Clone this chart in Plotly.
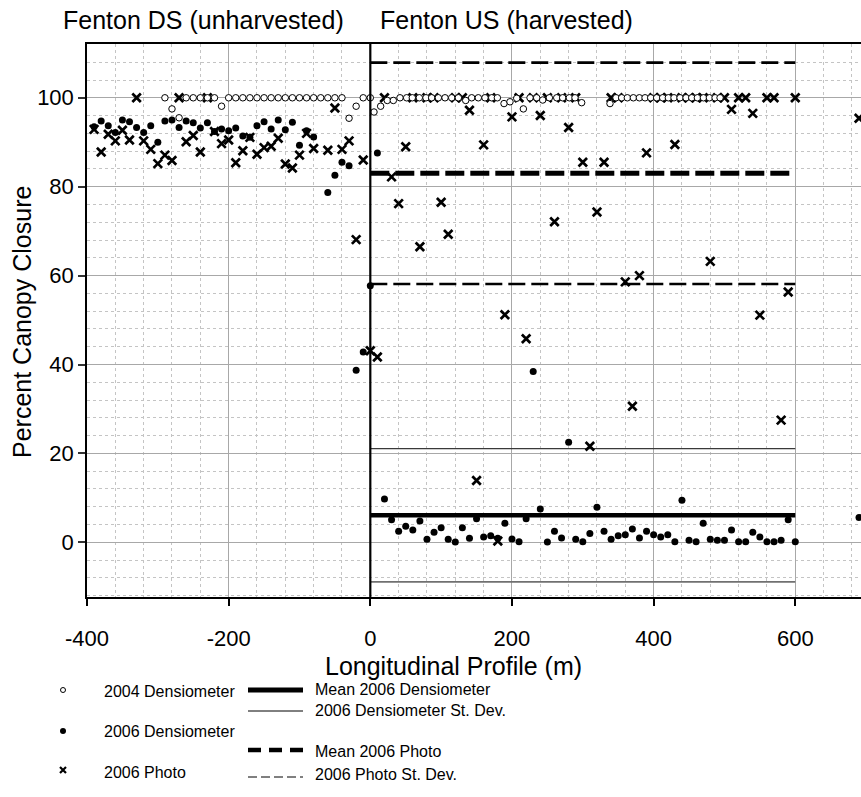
import plotly.graph_objects as go

W, H = 861, 797

# ---------------- data ----------------
# 2004 densiometer (open circles)
d04_x = [-290, -280, -270, -260, -250, -240, -230, -220, -210, -200, -190, -180, -170, -160,
         -150, -140, -130, -120, -110, -100, -90, -80, -70, -60, -50, -40, -30, -20, -10, 0,
         5.2, 14.6, 24.0, 32.5, 41.9, 51.3, 59.3, 69.2, 78.6, 86.6, 96.1, 105.5, 114.9, 124.3,
         134.7, 143.1, 152.5, 161.9, 171.4, 179.4, 188.8, 197.2, 206.7, 216.1, 225.5, 234.9,
         243.4, 252.8, 263.2, 271.6, 281.0, 289.0, 298.4,
         338.4, 346.9, 354.9, 362.9, 371.4, 379.9, 387.9, 395.9, 404.3, 412.8, 420.8, 428.8,
         437.3, 445.8, 453.8, 461.8, 470.3, 478.8, 486.8, 493.8]
d04_y = [100, 97.5, 95.5, 100, 100, 100, 100, 100, 98.1, 100, 100, 100, 100, 100,
         100, 100, 100, 100, 100, 100, 100, 100, 100, 100, 100, 100, 95.4, 98.1, 100, 100,
         96.8, 98.1, 99.4, 99.4, 100, 100, 100, 100, 100, 100, 100, 100, 100, 100,
         99.4, 100, 100, 100, 100, 100, 98.7, 99.1, 99.9, 97.5, 100, 100,
         99.5, 100, 100, 100, 100, 100, 98.9,
         98.7, 100, 100, 100, 100, 100, 100, 100, 100, 100, 100, 100,
         100, 100, 100, 100, 100, 100, 100, 100]

# 2006 densiometer (filled circles)
d06_x = [-390, -380, -370, -360, -350, -340, -330, -320, -310, -300, -290, -280, -270, -260,
         -250, -240, -230, -220, -210, -200, -190, -180, -170, -160, -150, -140, -130, -120,
         -110, -100, -90, -80, -60, -50, -40, -30, -20, -10,
         0, 10, 20, 30, 40, 50, 60, 70, 80, 90, 100, 110, 120, 130, 140, 150, 160, 170, 180, 190,
         200, 210, 220, 230, 240, 250, 260, 270, 280, 290, 300, 310, 320, 330, 340, 350, 360,
         370, 380, 390, 400, 410, 420, 430, 440, 450, 460, 470, 480, 490, 500, 510, 520, 530,
         540, 550, 560, 570, 580, 590, 600, 690]
d06_y = [93.5, 94.8, 93.7, 92.2, 95.0, 94.6, 93.3, 92.2, 93.7, 90.0, 94.8, 95.0, 93.3, 94.8,
         94.4, 93.2, 94.4, 92.4, 93.0, 92.6, 93.2, 91.4, 91.1, 93.7, 94.6, 93.0, 95.0, 92.8,
         94.5, 89.3, 92.6, 91.2, 78.7, 82.6, 85.5, 84.7, 38.7, 42.8,
         57.7, 87.6, 9.75, 5.1, 2.5, 3.6, 2.8, 4.8, 0.7, 2.25, 3.3, 0.7, 0.1, 3.3, 0.9, 5.3, 1.2,
         1.5, 0.9, 4.3, 0.75, 0.15, 5.3, 38.4, 7.5, 0.1, 2.5, 1.0, 22.5, 0.7, 0.15, 2.0, 7.9,
         2.5, 0.7, 1.5, 1.7, 3.0, 1.0, 2.5, 1.7, 1.2, 1.7, 0.15, 9.45, 0.45, 0.15, 4.3, 0.7,
         0.45, 0.45, 2.8, 0.15, 0.15, 2.25, 1.2, 0.15, 0.15, 0.45, 5.1, 0.15, 5.6]

# 2006 photo (x markers)
ph_x = [-390, -380, -370, -360, -350, -340, -330, -320, -310, -300, -290, -280, -270, -260,
        -250, -240, -230, -220, -210, -200, -190, -180, -170, -160, -150, -140, -130, -120,
        -110, -100, -90, -80, -60, -50, -40, -30, -20, -10,
        0, 10, 20, 30, 40, 50, 60, 70, 80, 90, 100, 110, 120, 130, 140, 150, 160, 170, 180, 190,
        200, 210, 220, 230, 240, 250, 260, 270, 280, 290, 300, 310, 320, 330, 340, 350, 360,
        370, 380, 390, 400, 410, 420, 430, 440, 450, 460, 470, 480, 490, 500, 510, 520, 530,
        540, 550, 560, 570, 580, 590, 600, 690]
ph_y = [92.9, 87.8, 91.8, 90.3, 92.7, 90.5, 100, 90.3, 88.4, 85.2, 87.1, 85.9, 100, 90.1,
        91.5, 87.8, 100, 92.4, 89.7, 90.5, 85.4, 88.1, 91.1, 87.3, 88.8, 89.1, 90.9, 85.1,
        84.2, 87.1, 92.0, 88.6, 88.2, 97.7, 88.4, 90.3, 68.1, 86.0,
        43.1, 41.7, 100, 82.2, 76.2, 89.0, 100, 66.5, 100, 100, 76.5, 69.3, 100, 100, 97.2,
        13.9, 89.4, 100, 0.3, 51.2, 95.7, 100, 45.8, 100, 96.0, 100, 72.1, 100, 93.3, 100,
        85.5, 21.6, 74.3, 85.5, 100, 100, 58.6, 30.6, 60.0, 87.6, 100, 100, 100, 89.5, 100,
        100, 100, 100, 63.2, 100, 100, 97.4, 100, 100, 96.5, 51.1, 100, 100, 27.5, 56.3, 100,
        95.4]

# summary statistics for the harvested reach (0-600 m)
stat_x = [0, 600]
dens_mean, dens_sd = 6.1, 15.0
photo_mean, photo_sd = 83.0, 24.9

x_ticks = [-400, -200, 0, 200, 400, 600]
x_ticktext = ["-400", "-200", "0", "200", "400", "600"]
y_ticks = [0, 20, 40, 60, 80, 100]
y_ticktext = ["0", "20", "40", "60", "80", "100"]

# ---------------- layout geometry ----------------
L, R, T, B = 87, 861, 44, 597
FONT = "Liberation Sans, Arial, sans-serif"

fig = go.Figure()

# statistic lines
fig.add_trace(go.Scatter(x=stat_x, y=[dens_mean + dens_sd] * 2, mode="lines",
                         line=dict(color="#3a3a3a", width=1.3)))
fig.add_trace(go.Scatter(x=stat_x, y=[dens_mean - dens_sd] * 2, mode="lines",
                         line=dict(color="#707070", width=1.6)))
fig.add_trace(go.Scatter(x=stat_x, y=[photo_mean + photo_sd] * 2, mode="lines",
                         line=dict(color="black", width=2.6, dash="17px,6px")))
fig.add_trace(go.Scatter(x=stat_x, y=[photo_mean - photo_sd] * 2, mode="lines",
                         line=dict(color="black", width=2.6, dash="17px,6px")))
fig.add_trace(go.Scatter(x=stat_x, y=[photo_mean] * 2, mode="lines",
                         line=dict(color="black", width=5, dash="19px,6px")))
fig.add_trace(go.Scatter(x=stat_x, y=[dens_mean] * 2, mode="lines",
                         line=dict(color="black", width=4.6)))

# points
fig.add_trace(go.Scatter(x=ph_x, y=ph_y, mode="markers",
                         marker=dict(symbol="x-thin", size=8.5, color="black",
                                     line=dict(color="black", width=2.7))))
fig.add_trace(go.Scatter(x=d06_x, y=d06_y, mode="markers",
                         marker=dict(symbol="circle", size=7, color="black",
                                     line=dict(width=0))))
fig.add_trace(go.Scatter(x=d04_x, y=d04_y, mode="markers",
                         marker=dict(symbol="circle", size=6.5, color="white",
                                     line=dict(color="black", width=1))))

# ---------------- legend (drawn on a pixel-space helper axis) ----------------
lg = dict(xaxis="x2", yaxis="y2", hoverinfo="skip")
fig.add_trace(go.Scatter(x=[63], y=[690], mode="markers",
                         marker=dict(symbol="circle", size=5, color="white",
                                     line=dict(color="black", width=1)), **lg))
fig.add_trace(go.Scatter(x=[63], y=[731], mode="markers",
                         marker=dict(symbol="circle", size=6, color="black"), **lg))
fig.add_trace(go.Scatter(x=[63], y=[770], mode="markers",
                         marker=dict(symbol="x-thin", size=6, color="black",
                                     line=dict(color="black", width=2.2)), **lg))
fig.add_trace(go.Scatter(x=[248, 303], y=[690, 690], mode="lines",
                         line=dict(color="black", width=5), **lg))
fig.add_trace(go.Scatter(x=[248, 303], y=[711, 711], mode="lines",
                         line=dict(color="black", width=1), **lg))
fig.add_trace(go.Scatter(x=[248, 303], y=[750, 750], mode="lines",
                         line=dict(color="black", width=4.5, dash="13px,8px"), **lg))
fig.add_trace(go.Scatter(x=[248, 303], y=[777, 777], mode="lines",
                         line=dict(color="black", width=1, dash="9px,4px"), **lg))

legend_texts = [
    (102, 691, "2004 Densiometer"),
    (102, 731, "2006 Densiometer"),
    (102, 772, "2006 Photo"),
    (313, 689, "Mean 2006 Densiometer"),
    (313, 710, "2006 Densiometer St. Dev."),
    (313, 751, "Mean 2006 Photo"),
    (313, 774, "2006 Photo St. Dev."),
]
annotations = []
for tx, ty, t in legend_texts:
    annotations.append(dict(x=tx, y=ty, xref="x2", yref="y2", text=t, showarrow=False,
                            xanchor="left", yanchor="middle",
                            font=dict(family=FONT, size=16, color="black")))

annotations += [
    dict(x=61, y=20, xref="x2", yref="y2", text="Fenton DS (unharvested)", showarrow=False,
         xanchor="left", yanchor="middle", font=dict(family=FONT, size=25, color="black")),
    dict(x=378, y=20, xref="x2", yref="y2", text="Fenton US (harvested)", showarrow=False,
         xanchor="left", yanchor="middle", font=dict(family=FONT, size=25, color="black")),
    dict(x=453, y=666, xref="x2", yref="y2", text="Longitudinal Profile (m)", showarrow=False,
         xanchor="center", yanchor="middle", font=dict(family=FONT, size=25, color="black")),
    dict(x=22, y=322, xref="x2", yref="y2", text="Percent Canopy Closure", showarrow=False,
         textangle=-90, xanchor="center", yanchor="middle",
         font=dict(family=FONT, size=25, color="black")),
]

shapes = [
    dict(type="line", xref="x", yref="y domain", x0=0, x1=0, y0=0, y1=1,
         line=dict(color="black", width=2.2), layer="above"),
]

fig.update_layout(
    width=W, height=H,
    margin=dict(l=0, r=0, t=0, b=0, autoexpand=False),
    paper_bgcolor="white", plot_bgcolor="rgba(0,0,0,0)",
    showlegend=False,
    font=dict(family=FONT, size=20, color="black"),
    annotations=annotations,
    shapes=shapes,
    xaxis=dict(
        domain=[L / W, R / W], range=[-400, 692.8], anchor="y", automargin=False,
        tickmode="array", tickvals=x_ticks, ticktext=x_ticktext,
        ticks="outside", ticklen=7, tickwidth=1.5, tickcolor="black",
        tickfont=dict(size=22), ticklabelstandoff=14,
        showline=True, linecolor="black", linewidth=1.5, mirror=True,
        showgrid=True, gridcolor="#a8a8a8", gridwidth=1.3, zeroline=False,
        minor=dict(tick0=0, dtick=40, showgrid=True, gridcolor="#c4c4c4",
                   griddash="dot", gridwidth=1, ticks=""),
    ),
    yaxis=dict(
        domain=[(H - B) / H, (H - T) / H], range=[-12.3, 112.1], anchor="x", automargin=False,
        tickmode="array", tickvals=y_ticks, ticktext=y_ticktext,
        ticks="outside", ticklen=7, tickwidth=1.5, tickcolor="#333",
        tickfont=dict(size=22),
        showline=True, linecolor="black", linewidth=1.5, mirror=False,
        showgrid=True, gridcolor="#a8a8a8", gridwidth=1.3, zeroline=False,
        minor=dict(tick0=0, dtick=4, showgrid=True, gridcolor="#c4c4c4",
                   griddash="dot", gridwidth=1, ticks=""),
    ),
    xaxis2=dict(domain=[0, 1], range=[0, W], anchor="y2", visible=False,
                fixedrange=True, automargin=False),
    yaxis2=dict(domain=[0, 1], range=[H, 0], anchor="x2", visible=False,
                fixedrange=True, automargin=False),
)

fig.write_html("out.html", config={"displayModeBar": False},
               post_script="document.body.style.margin='0px';document.body.style.overflow='hidden';")
